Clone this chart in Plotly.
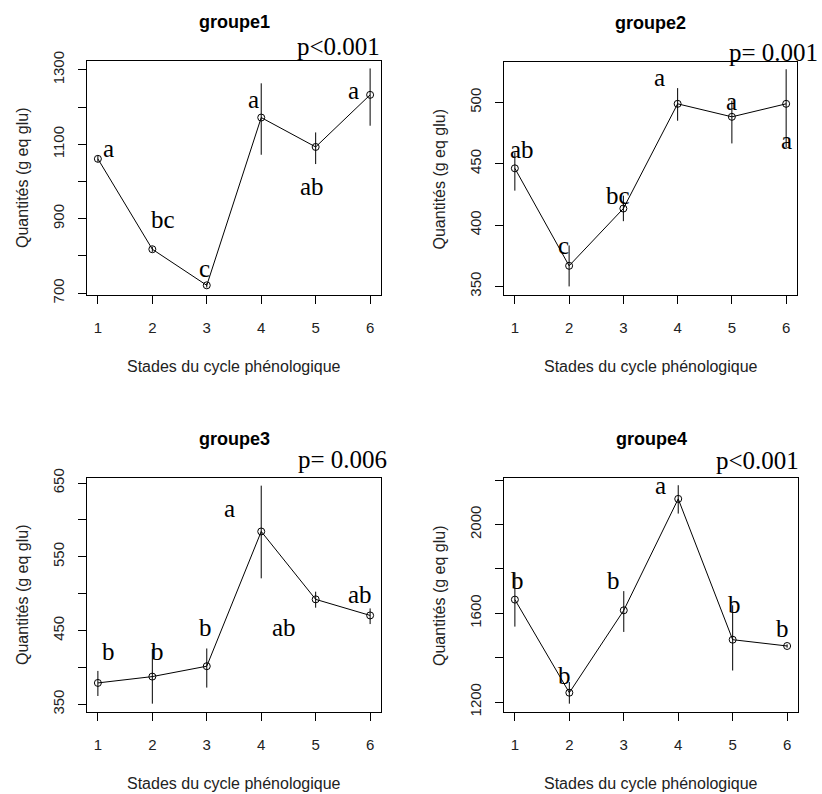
import plotly.graph_objects as go

# ---------------- data ----------------
stades = [1, 2, 3, 4, 5, 6]

g1_mean = [1061, 818, 721, 1172, 1093, 1233]
g1_low = [1053, 811, 715, 1072, 1047, 1150]
g1_high = [1069, 825, 727, 1264, 1132, 1304]
g1_letters = ["a", "bc", "c", "a", "ab", "a"]
g1_lx = [1.2, 2.19, 2.96, 3.85, 4.93, 5.69]
g1_ly = [1088, 899, 767, 1221, 987, 1244]
g1_p = "p<0.001"

g2_mean = [446.3, 366.8, 413.5, 498.9, 488.3, 498.9]
g2_low = [428.1, 350.0, 403.2, 485.1, 466.6, 463.4]
g2_high = [459.3, 383.4, 424.0, 511.7, 501.4, 527.1]
g2_letters = ["ab", "c", "bc", "a", "a", "a"]
g2_lx = [1.14, 1.89, 2.90, 3.66, 5.0, 6.0]
g2_ly = [462, 383.4, 424, 520, 501, 469]
g2_p = "p= 0.001"

g3_mean = [379.0, 387.6, 401.7, 584.3, 492.3, 470.5]
g3_low = [361.3, 350.9, 372.7, 520.8, 481.0, 458.8]
g3_high = [395.3, 425.0, 425.7, 646.4, 502.7, 480.0]
g3_letters = ["b", "b", "b", "a", "ab", "ab"]
g3_lx = [1.2, 2.09, 2.98, 3.41, 4.41, 5.82]
g3_ly = [421, 421, 453.8, 616, 453.8, 499]
g3_p = "p= 0.006"

g4_mean = [1661.7, 1242.0, 1613.5, 2115.8, 1481.0, 1452.6]
g4_low = [1540, 1192.5, 1516, 2049.6, 1342, 1445]
g4_high = [1785, 1290, 1700, 2177.4, 1636, 1460]
g4_letters = ["b", "b", "b", "a", "b", "b"]
g4_lx = [1.04, 1.92, 2.81, 3.68, 5.03, 5.92]
g4_ly = [1749, 1320, 1749, 2177, 1641, 1532]
g4_p = "p<0.001"

titles = ["groupe1", "groupe2", "groupe3", "groupe4"]
ylabel = "Quantités (g eq glu)"
xlabel = "Stades du cycle phénologique"

g1_ticks = [700, 800, 900, 1000, 1100, 1200, 1300]
g1_ticktext = ["700", "", "900", "", "1100", "", "1300"]
g2_ticks = [350, 400, 450, 500]
g2_ticktext = ["350", "400", "450", "500"]
g3_ticks = [350, 400, 450, 500, 550, 600, 650]
g3_ticktext = ["350", "", "450", "", "550", "", "650"]
g4_ticks = [1200, 1400, 1600, 1800, 2000, 2200]
g4_ticktext = ["1200", "", "1600", "", "2000", ""]

# ---------------- layout helpers ----------------
W, H = 822, 794
SANS = "Liberation Sans, Arial, sans-serif"
SERIF = "Liberation Serif, Times New Roman, serif"

panels = [
    dict(mean=g1_mean, low=g1_low, high=g1_high, letters=g1_letters, lx=g1_lx, ly=g1_ly,
         p=g1_p, px=5.42, py=1363, ticks=g1_ticks, ticktext=g1_ticktext, yr=[695, 1324],
         box=(87, 381, 61, 295)),
    dict(mean=g2_mean, low=g2_low, high=g2_high, letters=g2_letters, lx=g2_lx, ly=g2_ly,
         p=g2_p, px=5.77, py=540.7, ticks=g2_ticks, ticktext=g2_ticktext, yr=[343, 533],
         box=(504, 797, 62, 295)),
    dict(mean=g3_mean, low=g3_low, high=g3_high, letters=g3_letters, lx=g3_lx, ly=g3_ly,
         p=g3_p, px=5.5, py=681.7, ticks=g3_ticks, ticktext=g3_ticktext, yr=[339.6, 656.8],
         box=(87, 381, 478, 712)),
    dict(mean=g4_mean, low=g4_low, high=g4_high, letters=g4_letters, lx=g4_lx, ly=g4_ly,
         p=g4_p, px=5.46, py=2290, ticks=g4_ticks, ticktext=g4_ticktext, yr=[1155, 2210],
         box=(504, 798, 478, 712)),
]

fig = go.Figure()
annotations = []
layout = {}

for i, pn in enumerate(panels):
    n = i + 1
    xa = "x" if n == 1 else f"x{n}"
    ya = "y" if n == 1 else f"y{n}"
    x0, x1, y0, y1 = pn["box"]
    err_plus = [h - m for h, m in zip(pn["high"], pn["mean"])]
    err_minus = [m - l for m, l in zip(pn["mean"], pn["low"])]
    fig.add_trace(go.Scatter(
        x=stades, y=pn["mean"], mode="lines+markers",
        xaxis=xa, yaxis=ya, showlegend=False, hoverinfo="skip",
        line=dict(color="black", width=1),
        marker=dict(symbol="circle-open", size=7, color="black", line=dict(width=1)),
        error_y=dict(type="data", symmetric=False, array=err_plus, arrayminus=err_minus,
                     width=0, thickness=1, color="black"),
        cliponaxis=False,
    ))
    axis_common = dict(showline=True, linecolor="black", linewidth=1, mirror=True,
                       ticks="outside", ticklen=8, tickcolor="black", tickwidth=1,
                       showgrid=False, zeroline=False, automargin=False,
                       tickfont=dict(family=SANS, size=15, color="#222"))
    layout["xaxis" if n == 1 else f"xaxis{n}"] = dict(
        axis_common, domain=[x0 / W, x1 / W], range=[0.8, 6.2],
        tickvals=stades, ticktext=[str(s) for s in stades], anchor=ya,
        ticklabelstandoff=11)
    layout["yaxis" if n == 1 else f"yaxis{n}"] = dict(
        axis_common, domain=[1 - y1 / H, 1 - y0 / H], range=pn["yr"],
        tickvals=pn["ticks"], ticktext=pn["ticktext"], tickangle=-90, anchor=xa,
        ticklabelstandoff=8)
    center = dict(xanchor="center", yanchor="middle", showarrow=False)
    # title
    annotations.append(dict(center, text="<b>" + titles[i] + "</b>", xref="paper", yref="paper",
                            x=(x0 + x1) / 2 / W, y=1 - (y0 - 39) / H,
                            font=dict(family=SANS, size=18, color="black")))
    # axis labels
    annotations.append(dict(center, text=xlabel, xref="paper", yref="paper",
                            x=(x0 + x1) / 2 / W, y=1 - (y1 + 71) / H,
                            font=dict(family=SANS, size=16, color="#222")))
    annotations.append(dict(center, text=ylabel, xref="paper", yref="paper",
                            x=(x0 - 65) / W, y=1 - (y0 + y1) / 2 / H,
                            textangle=-90,
                            font=dict(family=SANS, size=16, color="#222")))
    # letters
    for lt, lx, ly in zip(pn["letters"], pn["lx"], pn["ly"]):
        annotations.append(dict(center, text=lt, xref=xa, yref=ya, x=lx, y=ly,
                                font=dict(family=SERIF, size=25, color="black")))
    # p-value (above the plot box, so positioned relative to the axis domain)
    yr0, yr1 = pn["yr"]
    annotations.append(dict(center, text=pn["p"], xref=xa, yref=f"{ya} domain",
                            x=pn["px"], y=(pn["py"] - yr0) / (yr1 - yr0),
                            font=dict(family=SERIF, size=25, color="black")))

fig.update_layout(
    width=W, height=H, margin=dict(l=0, r=0, t=0, b=0),
    paper_bgcolor="white", plot_bgcolor="white", hovermode=False,
    annotations=annotations, **layout)

fig.write_html("out.html", config={"displayModeBar": False},
               post_script="document.body.style.margin='0';document.body.style.padding='0';")
